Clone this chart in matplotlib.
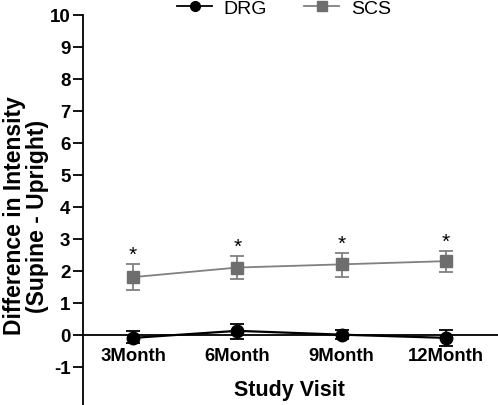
import matplotlib
matplotlib.use("Agg")
import matplotlib.pyplot as plt
from matplotlib.lines import Line2D

plt.rcParams['font.family'] = ['Liberation Sans', 'DejaVu Sans']

visits = ["3Month", "6Month", "9Month", "12Month"]
drg_mean = [-0.1, 0.12, 0.0, -0.1]
drg_lo = [0.15, 0.25, 0.15, 0.25]
drg_hi = [0.2, 0.2, 0.15, 0.25]
scs_mean = [1.8, 2.1, 2.2, 2.3]
scs_lo = [0.4, 0.35, 0.4, 0.33]
scs_hi = [0.4, 0.35, 0.37, 0.33]
yticks = list(range(-1, 11))

fig = plt.figure(figsize=(4.98, 4.06), dpi=100)
ax = fig.add_axes([83/498, 0.0, 1 - 83/498, 1 - 16/406])
x = list(range(len(visits)))

gray = "#808080"
ax.errorbar(x, scs_mean, yerr=[scs_lo, scs_hi], color=gray, marker='s', markersize=9,
            markerfacecolor="#6e6e6e", markeredgecolor="#6e6e6e", lw=1.3, capsize=5,
            elinewidth=1.3, capthick=1.3, zorder=3)
ax.errorbar(x, drg_mean, yerr=[drg_lo, drg_hi], color='black', marker='o', markersize=9,
            lw=1.6, capsize=5, elinewidth=1.3, capthick=1.3, zorder=4)

for xi, m, h in zip(x, scs_mean, scs_hi):
    ax.text(xi, m + h + 0.3, "*", ha='center', va='center', fontsize=15, color='black')

ax.set_xlim(-0.48, 3.5)
ax.set_ylim(-2.2, 10)
ax.axhline(0, color='black', lw=1.3, zorder=2)
for s in ['top', 'right', 'bottom']:
    ax.spines[s].set_visible(False)
ax.spines['left'].set_linewidth(1.3)
ax.set_xticks([])
ax.set_yticks(yticks)
ax.set_yticklabels([str(t) for t in yticks], fontsize=13.5, fontweight='bold')
ax.tick_params(axis='y', length=7, width=1.3, pad=2)

for xi, lab in zip(x, visits):
    ax.text(xi, -0.66, lab, ha='center', va='center', fontsize=13.3, fontweight='bold')
ax.text(1.5, -1.72, "Study Visit", ha='center', va='center', fontsize=15.5, fontweight='bold')

fig.text(26/498, 1 - 216/406, "Difference in Intensity\n(Supine - Upright)", rotation=90,
         ha='center', va='center', fontsize=16.5, fontweight='bold', linespacing=1.05)

handles = [Line2D([], [], color='black', marker='o', markersize=7, lw=1.3),
           Line2D([], [], color=gray, marker='s', markersize=7, markerfacecolor="#6e6e6e",
                  markeredgecolor="#6e6e6e", lw=1.3)]
fig.legend(handles, ["DRG", "SCS"], loc='center', bbox_to_anchor=(284/498, 1 - 9/406),
           ncol=2, frameon=False, fontsize=14, handlelength=1.8, columnspacing=1.9,
           handletextpad=0.6, borderpad=0)

fig.savefig("out.png", dpi=100)
